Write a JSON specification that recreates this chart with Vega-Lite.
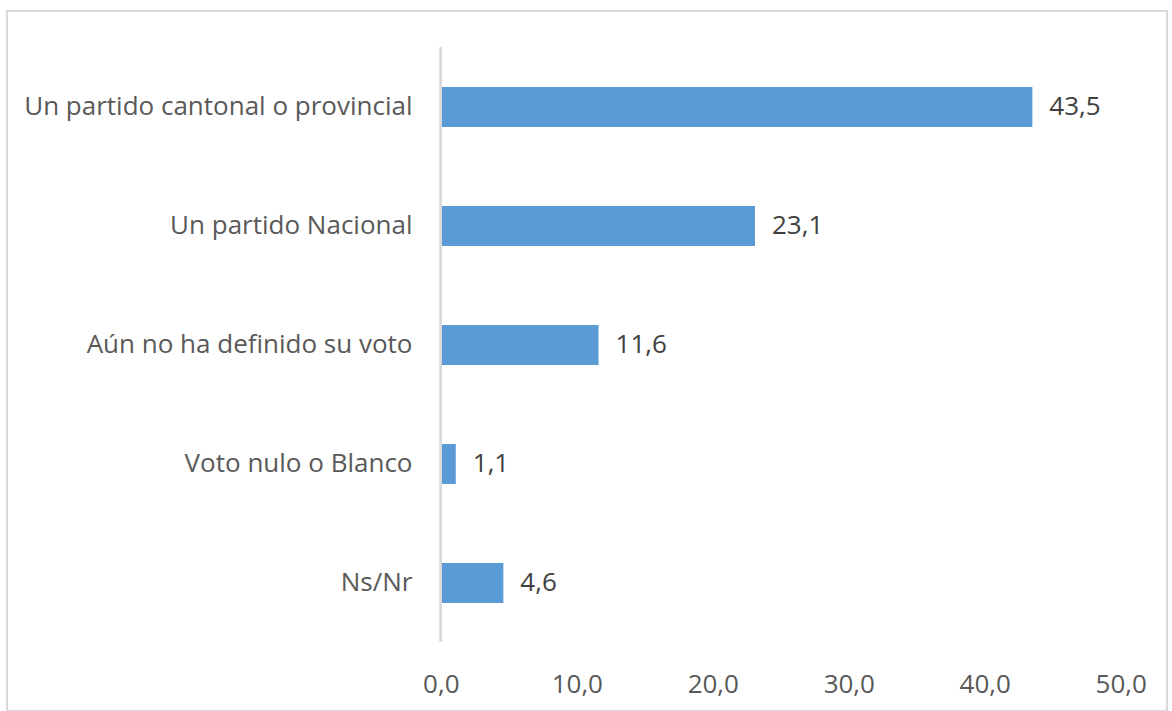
{
  "$schema": "https://vega.github.io/schema/vega-lite/v6.json",
  "width": 1160,
  "height": 700,
  "autosize": "none",
  "padding": {"left": 7, "top": 11, "right": 5, "bottom": 0},
  "background": "white",
  "config": {
    "view": {"stroke": "#d9d9d9", "strokeWidth": 2},
    "font": "Open Sans",
    "locale": {"number": {"decimal": ",", "thousands": ".", "grouping": [3], "currency": ["", " €"]}}
  },
  "data": {
    "values": [
      {"cat": "Un partido cantonal o provincial", "v": 43.5},
      {"cat": "Un partido Nacional", "v": 23.1},
      {"cat": "Aún no ha definido su voto", "v": 11.6},
      {"cat": "Voto nulo o Blanco", "v": 1.1},
      {"cat": "Ns/Nr", "v": 4.6}
    ]
  },
  "encoding": {
    "y": {
      "field": "cat",
      "type": "nominal",
      "sort": null,
      "scale": {"paddingInner": 0.6639, "paddingOuter": 0.7731, "align": 0.413},
      "axis": {
        "orient": "left",
        "offset": -434,
        "domain": false,
        "ticks": false,
        "labelPadding": 29,
        "labelFontSize": 26,
        "labelColor": "#595959",
        "labelLimit": 600,
        "title": null
      }
    },
    "x": {
      "field": "v",
      "type": "quantitative",
      "scale": {"domain": [-31.9, 53.4], "nice": false, "zero": false},
      "axis": {
        "values": [0, 10, 20, 30, 40, 50],
        "format": ".1f",
        "domain": false,
        "ticks": false,
        "grid": false,
        "offset": -44,
        "labelPadding": 4,
        "labelFontSize": 26,
        "labelColor": "#595959",
        "title": null
      }
    }
  },
  "layer": [
    {
      "mark": {"type": "bar", "color": "#5b9bd5"},
      "encoding": {"x2": {"datum": 0}}
    },
    {
      "mark": {"type": "text", "align": "left", "baseline": "middle", "dx": 17, "fontSize": 26, "color": "#404040"},
      "encoding": {"text": {"field": "v", "type": "quantitative", "format": ".1f"}}
    },
    {
      "mark": {"type": "rule", "color": "#d9d9d9", "strokeWidth": 2},
      "encoding": {
        "x": {"datum": 0, "type": "quantitative"},
        "y": {"datum": "Un partido cantonal o provincial", "type": "nominal", "bandPosition": -1},
        "y2": {"datum": "Ns/Nr", "bandPosition": 1.975}
      }
    }
  ]
}
